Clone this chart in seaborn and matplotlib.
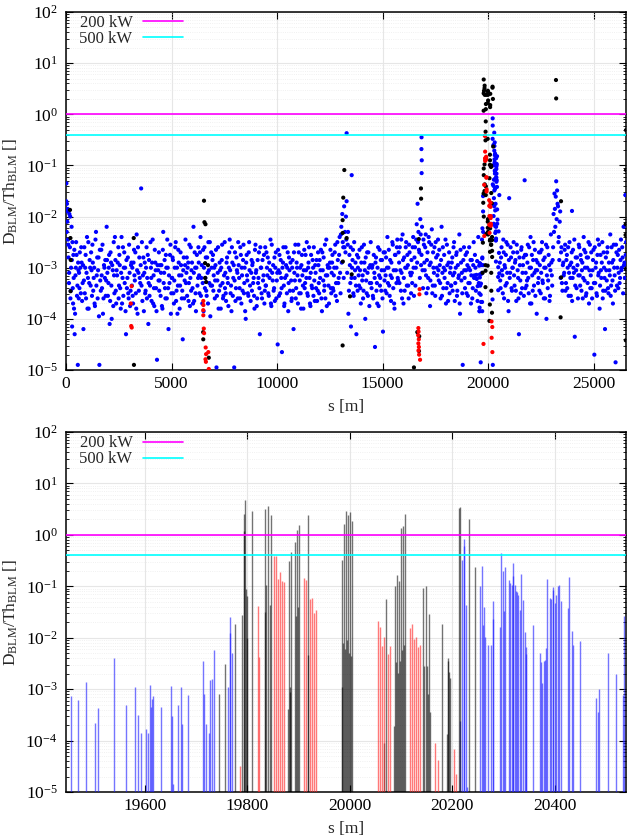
import numpy as np
import pandas as pd
import matplotlib
matplotlib.use("Agg")
import matplotlib.pyplot as plt
from matplotlib.ticker import FixedLocator, LogLocator, FuncFormatter, NullFormatter
from matplotlib.lines import Line2D
import seaborn as sns

# all losses stored as log10(D_BLM/Th_BLM)

# ---- zoomed region (lower panel, also part of the upper panel) ----
zoom_blue_s = [19455, 19469, 19486, 19503, 19509, 19539, 19563, 19580, 19587, 19593,
               19602, 19606, 19609, 19612, 19614, 19616, 19631, 19651, 19652, 19654,
               19665, 19670, 19673, 19685, 19714, 19715, 19720, 19725, 19728, 19731,
               19735, 19763, 19766, 19767, 19770, 20215, 20219, 20222, 20223, 20226,
               20228, 20254, 20258, 20260, 20261, 20264, 20269, 20275, 20279, 20280,
               20293, 20296, 20298, 20300, 20303, 20310, 20313, 20316, 20318, 20319,
               20322, 20324, 20326, 20329, 20332, 20335, 20337, 20341, 20343, 20344,
               20358, 20371, 20373, 20376, 20378, 20381, 20383, 20384, 20390, 20392,
               20396, 20397, 20400, 20402, 20406, 20409, 20413, 20425, 20428, 20433,
               20435, 20450, 20480, 20484, 20486, 20503, 20519, 20534, 20536]
zoom_blue_exp = [-3.14, -3.22, -2.87, -3.65, -3.36, -2.40, -3.30, -2.96, -3.50, -3.85,
                 -3.78, -3.85, -2.91, -3.34, -3.19, -3.13, -3.35, -2.93, -3.53, -4.85,
                 -3.31, -2.95, -3.67, -3.12, -2.45, -3.10, -3.67, -3.85, -2.82, -2.80,
                 -2.23, -2.95, -1.60, -1.90, -2.30, -3.62, -0.48, -0.08, -0.22, -1.37,
                 -4.90, -1.00, -0.60, -1.76, -1.40, -1.99, -2.14, -2.15, -1.28, -1.64,
                 -1.80, -0.36, -0.71, -1.49, -0.62, -0.88, -0.94, -0.98, -0.55, -0.80,
                 -0.97, -1.10, -1.11, -1.16, -1.46, -0.77, -1.26, -1.88, -2.19, -2.32,
                 -1.75, -2.29, -2.47, -2.88, -2.45, -2.43, -2.20, -0.86, -1.23, -1.24,
                 -1.07, -1.02, -1.32, -1.16, -0.99, -0.97, -1.29, -1.42, -0.82, -1.86,
                 -2.14, -2.06, -3.18, -3.44, -2.99, -2.29, -2.71, -3.11, -1.58]

zoom_black_s = [19744, 19757, 19775, 19790, 19793, 19794, 19796, 19797, 19799, 19800,
                19809, 19834, 19835, 19836, 19840, 19845, 19847, 19880, 19881, 19883,
                19884, 19885, 19893, 19895, 19897, 19899, 19901, 19918, 19919, 19984,
                19985, 19987, 19989, 19991, 19992, 19995, 19997, 19999, 20001, 20003,
                20005, 20067, 20070, 20087, 20088, 20090, 20092, 20094, 20096, 20098,
                20100, 20102, 20104, 20106, 20108, 20143, 20145, 20148, 20150, 20153,
                20154, 20157, 20180, 20189, 20191, 20192, 20194, 20196, 20213, 20215,
                20232, 20245]
zoom_black_exp = [-3.10, -2.51, -1.73, -1.55, 0.07, 0.41, 0.68, -1.06, -1.19, -2.00,
                  0.46, -1.50, 0.51, -0.98, 0.56, -1.37, 0.38, -3.38, -0.51, -2.95,
                  -3.06, -0.34, -0.14, -1.58, 0.10, -1.41, 0.20, 0.38, -2.34, -2.96,
                  -0.48, -2.10, 0.22, -2.22, 0.46, -2.05, 0.38, -2.30, 0.44, -2.35,
                  0.27, -4.04, -1.25, -3.72, -0.99, -2.47, -0.79, -2.69, -0.90, -2.45,
                  0.14, -2.23, 0.18, -2.15, 0.40, -1.03, -2.55, -1.00, -2.55, -3.10,
                  -1.54, -3.45, -1.74, -3.88, -2.40, -2.46, -2.67, -2.79, 0.52, 0.54,
                  0.30, -0.63]

zoom_red_s = [19786, 19820, 19823, 19852, 19856, 19860, 19864, 19868, 19872, 19911,
              19915, 19922, 19926, 19930, 19934, 20055, 20059, 20063, 20067, 20074,
              20078, 20117, 20121, 20125, 20129, 20133, 20137, 20167, 20172, 20203,
              20207]
zoom_red_exp = [-4.49, -1.38, -2.38, -0.42, -0.42, -0.86, -0.73, -0.90, -0.91, -0.83,
                -0.88, -1.24, -1.23, -1.51, -1.47, -1.68, -1.79, -2.16, -1.99, -2.32,
                -2.16, -1.81, -1.73, -2.03, -1.99, -2.18, -2.14, -4.05, -4.37, -4.16,
                -4.65]

# ---- rest of the ring (upper panel only) ----
ring_blue_s = [
    20, 45, 60, 80, 95, 120, 140, 160, 185, 210, 240, 265, 290, 320, 350, 380, 410, 450, 480, 520, 560, 590,
    10, 35, 70, 108, 150, 198, 228, 278, 305, 335, 365, 395, 430, 465, 500, 540, 575, 605,
    620, 655, 702, 740, 788, 826, 869, 910, 951, 995, 1040, 1076, 1121, 1168, 1210,
    1252, 1290, 1337, 1372, 1422, 1457, 1500, 1542, 1582, 1624, 1672, 1707, 1752, 1800, 1842,
    1882, 1927, 1960, 2012, 2044, 2092, 2134, 2165, 2217, 2262, 2294, 2342, 2379, 2422, 2480,
    2512, 2547, 2594, 2632, 2680, 2718, 2761, 2802, 2843, 2887, 2932, 2968, 3013, 3060, 3102,
    3142, 3177, 3224, 3262, 3310, 3348, 3391, 3432, 3473, 3517, 3562, 3598, 3643, 3690, 3732,
    3772, 3817, 3850, 3902, 3934, 3982, 4024, 4055, 4107, 4152, 4184, 4232, 4269, 4312, 4370,
    4402, 4437, 4484, 4522, 4570, 4608, 4651, 4692, 4733, 4777, 4822, 4858, 4903, 4950, 4992,
    5032, 5067, 5114, 5152, 5200, 5238, 5281, 5322, 5363, 5407, 5452, 5488, 5533, 5580, 5622,
    5662, 5707, 5740, 5792, 5824, 5872, 5914, 5945, 5997, 6042, 6074, 6122, 6159, 6202, 6260,
    6292, 6327, 6374, 6412, 6460, 6498, 6541, 6582, 6623, 6667, 6712, 6748, 6793, 6840, 6882,
    6922, 6967, 7000, 7052, 7084, 7132, 7174, 7205, 7257, 7302, 7334, 7382, 7419, 7462, 7520,
    7552, 7587, 7634, 7672, 7720, 7758, 7801, 7842, 7883, 7927, 7972, 8008, 8053, 8100, 8142,
    8182, 8227, 8260, 8312, 8344, 8392, 8434, 8465, 8517, 8562, 8594, 8642, 8679, 8722, 8780,
    8812, 8847, 8894, 8932, 8980, 9018, 9061, 9102, 9143, 9187, 9232, 9268, 9313, 9360, 9402,
    9442, 9477, 9524, 9562, 9610, 9648, 9691, 9732, 9773, 9817, 9862, 9898, 9943, 9990, 10032,
    10072, 10117, 10150, 10202, 10234, 10282, 10324, 10355, 10407, 10452, 10484, 10532, 10569, 10612, 10670,
    10702, 10737, 10784, 10822, 10870, 10908, 10951, 10992, 11033, 11077, 11122, 11158, 11203, 11250, 11292,
    11332, 11377, 11410, 11462, 11494, 11542, 11584, 11615, 11667, 11712, 11744, 11792, 11829, 11872, 11930,
    11962, 11997, 12044, 12082, 12130, 12168, 12211, 12252, 12293, 12337, 12382, 12418, 12463, 12510, 12552,
    12592, 12627, 12674, 12712, 12760, 12798, 12841, 12882, 12923, 12967, 13012, 13048, 13093, 13140, 13182,
    13222, 13267, 13300, 13352, 13384, 13432, 13474, 13505, 13557, 13602, 13634, 13682, 13719, 13762, 13820,
    13852, 13887, 13934, 13972, 14020, 14058, 14101, 14142, 14183, 14227, 14272, 14308, 14353, 14400, 14442,
    14482, 14527, 14560, 14612, 14644, 14692, 14734, 14765, 14817, 14862, 14894, 14942, 14979, 15022, 15080,
    15112, 15147, 15194, 15232, 15280, 15318, 15361, 15402, 15443, 15487, 15532, 15568, 15613, 15660, 15702,
    15742, 15787, 15820, 15872, 15904, 15952, 15994, 16025, 16077, 16122, 16154, 16202, 16239, 16282, 16340,
    16372, 16407, 16454, 16492, 16540, 16578, 16621, 16662, 16703, 16747, 16792, 16828, 16873, 16920, 16962,
    17002, 17047, 17080, 17132, 17164, 17212, 17254, 17285, 17337, 17382, 17414, 17462, 17499, 17542, 17600,
    17632, 17667, 17714, 17752, 17800, 17838, 17881, 17922, 17963, 18007, 18052, 18088, 18133, 18180, 18222,
    18262, 18307, 18340, 18392, 18424, 18472, 18514, 18545, 18597, 18642, 18674, 18722, 18759, 18802, 18860,
    18892, 18937, 18984, 19022, 19070, 19108, 19151, 19192, 19233, 19277, 19322, 19358, 19403,
    637, 680, 721, 764, 807, 848, 890, 930, 973, 1018, 1058, 1099, 1145, 1189, 1231,
    1271, 1313, 1355, 1397, 1440, 1478, 1521, 1562, 1603, 1648, 1690, 1730, 1776, 1821, 1862,
    1904, 1944, 1986, 2028, 2068, 2113, 2150, 2191, 2240, 2278, 2318, 2360, 2400, 2451, 2495,
    2530, 2570, 2613, 2656, 2699, 2740, 2782, 2822, 2865, 2910, 2950, 2990, 3037, 3081, 3122,
    3160, 3200, 3243, 3286, 3329, 3370, 3412, 3452, 3495, 3540, 3580, 3620, 3667, 3711, 3752,
    3794, 3834, 3876, 3918, 3958, 4003, 4040, 4081, 4130, 4168, 4208, 4250, 4290, 4341, 4385,
    4420, 4460, 4503, 4546, 4589, 4630, 4672, 4712, 4755, 4800, 4840, 4880, 4927, 4971, 5012,
    5050, 5090, 5133, 5176, 5219, 5260, 5302, 5342, 5385, 5430, 5470, 5510, 5557, 5601, 5642,
    5684, 5724, 5766, 5808, 5848, 5893, 5930, 5971, 6020, 6058, 6098, 6140, 6180, 6231, 6275,
    6310, 6350, 6393, 6436, 6479, 6520, 6562, 6602, 6645, 6690, 6730, 6770, 6817, 6861, 6902,
    6944, 6984, 7026, 7068, 7108, 7153, 7190, 7231, 7280, 7318, 7358, 7400, 7440, 7491, 7535,
    7570, 7610, 7653, 7696, 7739, 7780, 7822, 7862, 7905, 7950, 7990, 8030, 8077, 8121, 8162,
    8204, 8244, 8286, 8328, 8368, 8413, 8450, 8491, 8540, 8578, 8618, 8660, 8700, 8751, 8795,
    8830, 8870, 8913, 8956, 8999, 9040, 9082, 9122, 9165, 9210, 9250, 9290, 9337, 9381, 9422,
    9460, 9500, 9543, 9586, 9629, 9670, 9712, 9752, 9795, 9840, 9880, 9920, 9967, 10011, 10052,
    10094, 10134, 10176, 10218, 10258, 10303, 10340, 10381, 10430, 10468, 10508, 10550, 10590, 10641, 10685,
    10720, 10760, 10803, 10846, 10889, 10930, 10972, 11012, 11055, 11100, 11140, 11180, 11227, 11271, 11312,
    11354, 11394, 11436, 11478, 11518, 11563, 11600, 11641, 11690, 11728, 11768, 11810, 11850, 11901, 11945,
    11980, 12020, 12063, 12106, 12149, 12190, 12232, 12272, 12315, 12360, 12400, 12440, 12487, 12531, 12572,
    12610, 12650, 12693, 12736, 12779, 12820, 12862, 12902, 12945, 12990, 13030, 13070, 13117, 13161, 13202,
    13244, 13284, 13326, 13368, 13408, 13453, 13490, 13531, 13580, 13618, 13658, 13700, 13740, 13791, 13835,
    13870, 13910, 13953, 13996, 14039, 14080, 14122, 14162, 14205, 14250, 14290, 14330, 14377, 14421, 14462,
    14504, 14544, 14586, 14628, 14668, 14713, 14750, 14791, 14840, 14878, 14918, 14960, 15000, 15051, 15095,
    15130, 15170, 15213, 15256, 15299, 15340, 15382, 15422, 15465, 15510, 15550, 15590, 15637, 15681, 15722,
    15764, 15804, 15846, 15888, 15928, 15973, 16010, 16051, 16100, 16138, 16178, 16220, 16260, 16311, 16355,
    16390, 16430, 16473, 16516, 16559, 16600, 16642, 16682, 16725, 16770, 16810, 16850, 16897, 16941, 16982,
    17024, 17064, 17106, 17148, 17188, 17233, 17270, 17311, 17360, 17398, 17438, 17480, 17520, 17571, 17615,
    17650, 17690, 17733, 17776, 17819, 17860, 17902, 17942, 17985, 18030, 18070, 18110, 18157, 18201, 18242,
    18284, 18324, 18366, 18408, 18448, 18493, 18530, 18571, 18620, 18658, 18698, 18740, 18780, 18831, 18875,
    18910, 18960, 19003, 19046, 19089, 19130, 19172, 19212, 19255, 19300, 19340, 19380, 19425,
    20560, 20598, 20641, 20680, 20725, 20762, 20808, 20847, 20889, 20930, 20975, 21003, 21050, 21092, 21135,
    21172, 21215, 21258, 21300, 21340, 21385, 21427, 21465, 21510, 21553, 21590, 21637, 21680, 21736, 21770,
    21805, 21848, 21886, 21930, 21972, 22015, 22055, 22098, 22140, 22180, 22222, 22266, 22308, 22350, 22395,
    22435, 22478, 22520, 22561, 22600, 22645, 22688, 22727, 22770, 22812, 22850, 22896, 22937, 22980, 23024,
    23065, 23108, 23150, 23190, 23232, 23275, 23318, 23356, 23400, 23442, 23480, 23527, 23568, 23610, 23655,
    23695, 23738, 23776, 23820, 23862, 23905, 23945, 23988, 24030, 24070, 24112, 24156, 24198, 24240, 24285,
    24325, 24368, 24410, 24451, 24490, 24535, 24578, 24617, 24660, 24702, 24740, 24786, 24827, 24870, 24914,
    24955, 24998, 25040, 25080, 25122, 25165, 25208, 25246, 25290, 25332, 25370, 25417, 25458, 25500, 25545,
    25585, 25628, 25666, 25710, 25752, 25795, 25835, 25878, 25920, 25960, 26002, 26046, 26088, 26130, 26175,
    26215, 26258, 26300, 26342, 26380, 26425, 26468, 26510, 26545,
    20578, 20620, 20660, 20702, 20745, 20785, 20826, 20868, 20910, 20952, 20990, 21028, 21071, 21114, 21155,
    21193, 21236, 21279, 21320, 21362, 21405, 21446, 21488, 21531, 21572, 21614, 21658, 21700, 21752, 21788,
    21826, 21867, 21908, 21951, 21993, 22035, 22077, 22119, 22160, 22201, 22244, 22287, 22329, 22372, 22414,
    22456, 22499, 22540, 22582, 22623, 22666, 22707, 22749, 22791, 22831, 22873, 22916, 22958, 23002, 23042,
    23086, 23128, 23170, 23211, 23253, 23296, 23337, 23378, 23421, 23461, 23503, 23547, 23589, 23632, 23673,
    23716, 23757, 23798, 23841, 23883, 23925, 23966, 24009, 24050, 24091, 24134, 24177, 24219, 24262, 24303,
    24346, 24389, 24430, 24470, 24512, 24556, 24597, 24638, 24681, 24721, 24763, 24806, 24848, 24892, 24934,
    24976, 25019, 25060, 25101, 25143, 25186, 25227, 25268, 25311, 25351, 25393, 25437, 25479, 25522, 25562,
    25606, 25647, 25688, 25731, 25773, 25815, 25856, 25899, 25940, 25981, 26024, 26067, 26109, 26152, 26194,
    26236, 26279, 26320, 26361, 26403, 26446, 26489, 26528,
    13300, 13540, 16850, 16845, 16860, 16855, 23980, 26530]
ring_blue_exp = [
    -1.35, -1.75, -2.1, -1.85, -2.45, -2.8, -3.3, -1.95, -2.6, -3.6, -3.0, -2.2, -4.15, -3.4, -2.75, -3.8, -4.3, -3.15, -2.5, -3.55, -4.9, -3.05,
    -1.7, -2.3, -1.9, -2.55, -3.1, -2.0, -3.45, -2.85, -2.5, -3.7, -3.2, -2.65, -3.9, -3.0, -2.75, -3.35, -2.9, -3.6,
    -3.1, -2.7, -3.5, -2.9, -3.3, -4.2, -2.6, -3.0, -3.6, -2.4, -3.2, -3.8, -2.85, -3.35, -3.05,
    -2.55, -3.45, -3.0, -3.75, -2.3, -3.15, -3.6, -2.8, -4.9, -3.25, -2.65, -3.4, -3.9, -2.95, -3.2,
    -3.55, -2.2, -3.1, -3.3, -2.75, -3.65, -2.9, -4.0, -3.05, -2.5, -3.5, -2.85, -3.7, -3.15, -2.6,
    -3.35, -2.95, -3.8, -2.4, -3.2, -3.55, -2.7, -3.0, -4.3, -3.4, -2.8, -3.6, -3.1, -3.45, -2.9,
    -3.0, -3.7, -2.65, -3.25, -3.5, -2.35, -3.9, -3.1, -2.8, -3.3, -1.45, -2.5, -3.15, -3.85, -2.9,
    -3.45, -2.6, -3.2, -4.1, -2.85, -3.35, -3.0, -3.65, -2.45, -3.15, -3.75, -2.9, -3.4, -4.8, -3.05,
    -2.7, -3.25, -3.55, -2.95, -3.8, -2.3, -3.1, -3.4, -2.75, -3.6, -3.0, -4.2, -3.3, -2.55, -3.5,
    -3.2, -2.85, -3.7, -3.0, -2.5, -3.45, -3.9, -2.65, -3.15, -3.35, -2.95, -3.6, -4.4, -2.8, -3.25,
    -2.45, -3.1, -3.55, -2.9, -3.3, -3.75, -2.6, -3.05, -3.4, -2.2, -3.65, -3.0, -3.85, -2.75, -3.2,
    -2.9, -3.5, -2.4, -3.2, -3.7, -2.65, -3.0, -3.4, -2.8, -3.55, -3.1, -2.5, -3.3, -3.95, -2.7,
    -3.35, -2.75, -3.15, -3.6, -2.95, -4.95, -3.25, -2.6, -3.45, -3.05, -3.8, -2.85, -3.3, -3.55, -2.5,
    -3.1, -3.65, -2.8, -3.3, -3.0, -2.45, -3.5, -3.85, -2.9, -3.2, -4.95, -2.7, -3.4, -3.05, -3.6,
    -2.95, -3.4, -2.6, -3.7, -3.15, -2.85, -3.5, -3.0, -4.0, -2.75, -3.25, -3.55, -2.5, -3.35, -3.1,
    -3.45, -2.9, -3.2, -3.8, -2.55, -3.05, -3.6, -3.3, -2.7, -4.3, -3.0, -3.5, -2.85, -3.15, -3.7,
    -2.6, -3.35, -3.0, -2.8, -3.55, -3.2, -2.45, -3.75, -3.1, -2.95, -3.4, -3.65, -2.7, -3.25, -4.5,
    -3.05, -2.75, -3.5, -3.2, -4.65, -2.9, -3.35, -3.7, -2.6, -3.15, -3.0, -3.85, -2.8, -3.45, -3.25,
    -3.6, -2.85, -4.2, -3.1, -2.55, -3.4, -3.0, -3.7, -2.7, -3.25, -3.5, -2.95, -3.15, -3.8, -2.65,
    -3.3, -3.05, -2.5, -3.55, -2.9, -3.2, -3.75, -2.75, -3.4, -3.0, -2.6, -3.65, -3.1, -2.85, -3.45,
    -2.95, -3.5, -3.2, -2.65, -3.85, -3.05, -2.8, -3.35, -3.6, -2.45, -3.15, -3.0, -3.7, -2.9, -3.4,
    -3.1, -2.75, -3.45, -3.0, -2.55, -3.3, -3.65, -2.85, -3.2, -2.4, -3.5, -2.2, -1.95, -2.6, -1.8,
    -2.3, -2.0, -1.7, -2.55, -3.9, -2.75, -3.3, -4.15, -3.0, -2.65, -3.55, -3.2, -2.9, -4.3, -3.45,
    -2.8, -3.35, -3.05, -3.7, -2.6, -3.15, -3.45, -2.9, -4.0, -3.25, -2.7, -3.55, -3.0, -3.3, -2.5,
    -3.4, -2.95, -3.6, -3.1, -4.55, -2.8, -3.3, -3.0, -3.75, -2.65, -3.2, -3.45, -2.85, -4.25, -3.05,
    -2.7, -3.15, -3.5, -2.4, -3.0, -3.35, -2.85, -3.65, -3.2, -2.55, -3.05, -3.8, -2.75, -3.3, -2.45,
    -3.25, -2.9, -2.6, -3.45, -3.1, -2.35, -3.7, -2.8, -3.0, -2.5, -3.35, -2.95, -3.6, -2.7, -3.15,
    -2.85, -3.3, -2.4, -3.55, -2.6, -3.0, -2.15, -1.75, -2.3, -2.7, -2.05, -2.95, -2.2, -3.4, -2.55,
    -3.05, -2.35, -3.5, -2.7, -3.2, -2.5, -3.75, -2.9, -2.25, -3.35, -3.0, -2.6, -3.55, -2.8, -3.15,
    -2.45, -3.25, -2.95, -3.6, -2.2, -3.1, -3.4, -2.75, -3.05, -3.7, -2.55, -3.3, -2.9, -3.5, -3.0,
    -3.35, -2.8, -3.15, -2.5, -3.65, -3.0, -2.7, -3.45, -3.2, -2.35, -3.9, -2.9, -3.1, -4.9, -2.6,
    -3.2, -2.75, -3.5, -2.95, -3.3, -2.6, -3.05, -3.7, -2.85, -3.4, -2.5, -3.15, -3.0,
    -3.4, -3.0, -2.6, -3.65, -2.95, -3.25, -3.5, -2.75, -3.1, -3.8, -2.5, -3.3, -3.0, -2.7, -3.55,
    -2.9, -3.2, -3.7, -2.45, -3.35, -2.8, -3.05, -3.95, -2.65, -3.45, -3.15, -2.55, -3.6, -3.0, -2.85,
    -3.25, -2.85, -3.55, -3.0, -4.1, -2.7, -3.35, -2.95, -3.75, -3.15, -2.4, -3.45, -3.05, -2.9, -3.6,
    -2.75, -3.4, -3.1, -3.7, -2.6, -3.0, -3.3, -3.85, -2.85, -3.2, -3.5, -2.55, -3.75, -2.95, -3.35,
    -3.55, -2.9, -3.15, -2.7, -3.8, -3.05, -2.6, -3.45, -3.2, -2.95, -3.35, -3.65, -2.8, -3.1, -3.5,
    -3.0, -3.6, -2.75, -3.3, -3.55, -2.5, -3.2, -2.9, -3.7, -3.4, -2.65, -3.05, -3.85, -2.95, -3.25,
    -3.45, -2.95, -3.1, -3.75, -2.65, -3.3, -2.85, -3.6, -3.0, -2.45, -3.4, -3.15, -2.75, -3.9, -3.2,
    -2.8, -3.5, -3.25, -2.6, -3.65, -3.0, -3.35, -2.9, -3.8, -2.7, -3.15, -3.45, -3.05, -3.6, -2.95,
    -3.3, -2.8, -3.0, -3.65, -2.55, -3.2, -3.45, -2.9, -3.7, -3.1, -2.7, -3.5, -3.0, -3.35, -2.6,
    -3.15, -2.7, -3.55, -2.95, -3.3, -3.85, -2.6, -3.2, -3.45, -2.8, -3.7, -3.05, -2.5, -3.35, -3.0,
    -2.85, -3.45, -3.0, -3.25, -2.65, -3.55, -3.1, -3.8, -2.9, -3.35, -3.0, -2.55, -3.6, -3.15, -3.4,
    -3.5, -2.9, -3.2, -3.75, -2.7, -3.05, -3.35, -2.6, -3.55, -2.95, -3.25, -3.65, -2.8, -3.1, -2.5,
    -3.2, -3.6, -2.75, -3.0, -3.45, -2.55, -3.3, -3.85, -2.9, -3.15, -3.5, -2.7, -3.05, -3.65, -2.85,
    -2.95, -3.3, -3.55, -2.65, -3.1, -3.75, -2.85, -3.2, -3.4, -2.6, -3.0, -3.6, -3.25, -2.75, -3.45,
    -3.35, -2.7, -3.15, -3.5, -2.9, -3.05, -3.7, -2.55, -3.25, -3.45, -2.8, -3.0, -3.6, -3.1, -2.65,
    -3.55, -3.1, -2.85, -3.4, -3.0, -2.6, -3.75, -3.2, -2.95, -3.5, -2.7, -3.3, -3.05, -2.9, -3.65,
    -3.0, -3.45, -2.7, -3.25, -3.6, -2.9, -3.15, -2.55, -3.5, -3.0, -3.8, -2.75, -3.35, -3.05, -3.4,
    -2.75, -3.2, -3.5, -3.0, -2.6, -3.7, -3.1, -3.35, -2.85, -3.55, -3.25, -2.95, -3.4, -3.65, -2.7,
    -3.3, -2.85, -3.05, -3.6, -2.7, -3.25, -3.45, -2.55, -3.15, -3.75, -2.95, -3.35, -3.0, -2.65, -3.5,
    -2.9, -3.4, -3.15, -2.7, -3.55, -3.0, -2.5, -3.3, -2.75, -3.1, -2.35, -2.9, -2.5, -3.2, -2.6,
    -2.7, -2.45, -3.1, -2.3, -3.45, -2.95, -2.6, -3.2, -2.85, -3.5, -2.5, -3.05, -3.35, -2.75, -3.0,
    -3.15, -2.65, -3.4, -2.9, -3.25, -3.6, -2.55, -3.05, -2.8, -3.5, -3.1, -2.7, -3.75, -2.95, -3.3,
    -3.0, -3.55, -2.75, -3.2, -2.9, -3.45, -3.7, -2.6, -3.15, -3.35, -2.85, -3.05, -3.6, -2.7, -3.25,
    -3.45, -2.8, -3.0, -3.3, -2.65, -3.55, -3.15, -2.9, -2.5, -3.4, -3.7, -2.75, -3.05, -2.6, -3.2,
    -2.7, -3.3, -3.05, -2.45, -3.6, -2.85, -3.2, -3.45, -2.6, -3.0, -2.75, -3.35, -2.55, -3.1, -3.5,
    -3.1, -2.6, -3.0, -2.8, -3.35, -2.45, -2.9, -2.5, -2.65, -3.2, -2.35, -2.75, -3.05, -2.45, -2.9,
    -2.6, -3.15, -2.85, -3.4, -2.4, -2.95, -3.25, -2.55, -3.5, -2.7, -3.1, -3.35, -2.5, -3.0, -2.75,
    -3.05, -2.65, -3.3, -2.85, -3.55, -2.6, -3.0, -3.2, -2.45, -3.4, -2.95, -3.65, -2.7, -3.1, -3.35,
    -2.9, -3.45, -2.6, -3.1, -3.3, -2.75, -3.55, -2.95, -3.15, -3.7, -2.65, -3.25, -3.5, -2.85, -3.05,
    -3.4, -3.05, -2.7, -3.55, -3.0, -3.3, -2.85, -3.15, -3.6, -2.95, -3.2, -2.75, -3.45,
    -2.9, -3.4, -2.6, -3.15, -2.45, -3.6, -3.0, -2.75, -3.3, -2.55, -3.85, -1.64, -3.1, -2.8, -3.45,
    -3.0, -2.5, -3.35, -2.85, -3.65, -2.7, -3.2, -4.3, -2.95, -3.5, -2.6, -3.1, -2.8, -1.29, -3.4,
    -2.75, -3.25, -2.55, -3.5, -3.0, -2.4, -3.7, -3.15, -2.85, -3.35, -2.65, -3.05, -3.9, -2.9, -3.2,
    -3.45, -2.7, -3.1, -2.5, -3.3, -3.6, -2.8, -3.0, -4.0, -2.6, -3.25, -2.95, -3.55, -2.35, -3.15,
    -2.85, -1.95, -1.55, -2.2, -1.31, -1.49, -1.8, -2.4, -2.1, -3.2, -2.6, -3.45, -2.9, -3.1, -2.55,
    -3.3, -2.75, -3.0, -3.55, -2.5, -3.2, -2.9, -3.65, -2.65, -3.1, -4.35, -2.8, -3.4, -2.95, -3.15,
    -2.6, -3.35, -2.85, -3.05, -3.6, -2.4, -3.25, -2.7, -3.5, -3.0, -2.8, -3.7, -2.55, -3.15, -3.4,
    -3.05, -2.65, -4.7, -3.3, -2.9, -3.55, -2.45, -3.1, -3.8, -2.75, -3.2, -2.5, -3.45, -3.0, -4.2,
    -2.8, -3.25, -2.6, -3.5, -3.05, -2.35, -3.35, -2.9, -3.7, -2.55, -3.15, -4.85, -2.7, -3.0, -3.4,
    -2.65, -3.2, -2.45, -3.0, -2.8, -2.2, -2.9, -1.58, -2.5,
    -3.25, -2.8, -3.05, -3.5, -2.7, -2.95, -3.35, -2.5, -3.1, -3.65, -2.85, -3.2, -2.6, -3.4, -3.0,
    -2.7, -3.15, -2.9, -3.45, -2.55, -3.05, -3.6, -2.8, -3.25, -2.65, -3.4, -2.95, -3.55, -2.75, -3.1,
    -3.35, -2.9, -3.2, -2.6, -3.7, -3.0, -2.75, -3.45, -2.5, -3.1, -3.55, -2.85, -3.05, -3.3, -2.7,
    -2.95, -3.5, -2.65, -3.25, -2.85, -3.0, -3.6, -2.55, -3.15, -3.4, -2.75, -3.65, -3.05, -2.9, -3.35,
    -2.6, -2.3, -1.85, -1.61, -2.05, -1.75, -2.5, -2.85, -1.9, -2.7, -3.3, -2.95, -3.15, -2.65, -3.45,
    -2.85, -3.4, -2.6, -3.1, -2.95, -3.55, -2.7, -3.2, -3.0, -2.45, -3.35, -3.05, -2.8, -3.6, -2.55,
    -3.15, -2.75, -3.45, -2.9, -3.2, -2.65, -3.0, -3.55, -2.8, -3.3, -2.5, -3.05, -3.4, -2.7, -3.6,
    -2.85, -3.3, -2.6, -3.0, -3.5, -2.75, -3.15, -2.55, -3.35, -3.05, -2.9, -3.6, -2.7, -3.2, -3.45,
    -3.05, -2.7, -3.4, -2.9, -3.15, -3.55, -2.6, -3.25, -2.85, -3.0, -3.45, -2.55, -3.35, -2.75, -3.1,
    -3.3, -2.85, -3.05, -2.6, -3.5, -2.95, -3.2, -2.75,
    -0.37, -1.19, -0.45, -0.68, -0.90, -1.15, -1.89, -1.58]

ring_black_s = [190, 210, 225, 215, 3210, 3220, 6540, 6560, 6610, 6590, 6730, 6600, 6640,
                6500, 6505, 6767, 13190, 13140, 13110, 13115, 13120, 13300, 13540, 13460,
                13110, 16823, 16830, 16720, 16650, 16740, 16730, 16490, 23221, 23230,
                23460, 23440, 23465, 26540, 26545, 26530, 26520, 26540, 26530]
ring_black_exp = [-1.87, -2.42, -2.85, -3.46, -2.42, -4.90, -1.69, -2.11, -2.15, -2.91,
                  -2.95, -3.20, -3.28, -4.26, -4.40, -4.76, -1.09, -1.63, -2.07, -2.32,
                  -2.88, -2.42, -3.13, -3.56, -4.52, -1.45, -1.65, -2.44, -4.26, -4.34,
                  -4.63, -4.95, 0.67, 0.31, -1.70, -3.97, -3.19, -0.31, -1.09, -2.15,
                  -2.36, -3.02, -4.42]

ring_red_s = [3110, 3070, 3090, 3115, 6507, 6512, 6505, 6508, 6530, 6545, 6620, 6640,
              6610, 6630, 6745, 6767, 16700, 16710, 16690, 16720, 16700, 16725, 16705,
              16735, 16780, 16760, 16750]
ring_red_exp = [-3.36, -3.70, -4.14, -4.17, -3.65, -3.73, -3.83, -3.93, -4.19, -4.28,
                -4.56, -4.69, -4.79, -4.84, -4.65, -4.98, -4.18, -4.25, -4.32, -4.40,
                -4.48, -4.55, -4.62, -4.70, -4.80, -3.42, -3.52]

# thresholds
limit_labels = ["200 kW", "500 kW"]
limit_values = [1.0, 0.4]
limit_colors = ["#ff00ff", "#00ffff"]

point_colors = {"blue": "#0000ff", "black": "#000000", "red": "#ff0000"}
impulse_colors = {"blue": ("#2020ff", 0.62), "black": ("#000000", 0.55), "red": ("#ff2020", 0.6)}


def frame(s, e, cls):
    if len(s) != len(e):
        raise ValueError(f"{cls}: {len(s)} positions vs {len(e)} values")
    return pd.DataFrame({"s": s, "ratio": np.power(10.0, e), "cls": cls})


zoom_df = pd.concat([frame(zoom_blue_s, zoom_blue_exp, "blue"),
                     frame(zoom_black_s, zoom_black_exp, "black"),
                     frame(zoom_red_s, zoom_red_exp, "red")], ignore_index=True)
ring_df = pd.concat([frame(ring_blue_s, ring_blue_exp, "blue"),
                     frame(ring_black_s, ring_black_exp, "black"),
                     frame(ring_red_s, ring_red_exp, "red")], ignore_index=True)
top_df = pd.concat([ring_df, zoom_df], ignore_index=True)
draw_order = {"blue": 0, "black": 1, "red": 2}
top_df = top_df.assign(k=top_df["cls"].map(draw_order)).sort_values("k", kind="stable")

sns.set_theme(style="ticks")
plt.rcParams["font.family"] = ["Liberation Serif", "DejaVu Serif"]
plt.rcParams["mathtext.fontset"] = "custom"
plt.rcParams["mathtext.rm"] = "Liberation Serif"
plt.rcParams["mathtext.it"] = "Liberation Serif:italic"
plt.rcParams["mathtext.bf"] = "Liberation Serif:bold"

FS = 12.5

fig = plt.figure(figsize=(6.27, 8.40), dpi=100)
ax_top = fig.add_axes([66 / 627, 1 - 370 / 840, 560 / 627, 358 / 840])
ax_bot = fig.add_axes([66 / 627, 1 - 792 / 840, 560 / 627, 360 / 840])


def dec_label(v, pos):
    return r"$10^{%d}$" % int(round(np.log10(v)))


def style_axes(ax, xticks):
    ax.set_yscale("log")
    ax.set_ylim(1e-5, 1e2)
    ax.yaxis.set_major_locator(FixedLocator([10.0 ** k for k in range(-5, 3)]))
    ax.yaxis.set_minor_locator(LogLocator(base=10, subs=np.arange(2, 10), numticks=30))
    ax.yaxis.set_major_formatter(FuncFormatter(dec_label))
    ax.yaxis.set_minor_formatter(NullFormatter())
    ax.xaxis.set_major_locator(FixedLocator(xticks))
    ax.xaxis.set_major_formatter(FuncFormatter(lambda v, p: "%d" % v))
    ax.grid(which="major", color="#e6e6e6", lw=0.8, ls="-")
    ax.grid(which="minor", axis="y", color="#ececec", lw=0.6, ls=":")
    ax.set_axisbelow(True)
    ax.tick_params(which="both", direction="in", top=True, right=True, colors="black",
                   labelsize=FS)
    ax.tick_params(axis="y", pad=6)
    ax.tick_params(axis="x", pad=4)
    ax.tick_params(which="major", length=5, width=0.8)
    ax.tick_params(which="minor", length=2.5, width=0.6)
    for sp in ax.spines.values():
        sp.set_color("black")
        sp.set_linewidth(1.1)
    handles = []
    for val, lab, col in zip(limit_values, limit_labels, limit_colors):
        ax.axhline(val, color=col, lw=1.2, zorder=4)
        handles.append(Line2D([0], [0], color=col, lw=1.2, label=lab))
    ax.legend(handles=handles, loc="upper left", bbox_to_anchor=(0.018, 1.0),
              markerfirst=False, frameon=False, fontsize=FS - 0.5, handlelength=2.4,
              handletextpad=0.6, labelspacing=0.0, borderaxespad=0.0, borderpad=0.2)
    ax.set_xlabel("s [m]", fontsize=FS, labelpad=5.5)
    ax.set_ylabel(r"D$_{\rm BLM}$/Th$_{\rm BLM}$ []", fontsize=FS, labelpad=4)


# upper panel: whole ring, one dot per monitor
sns.scatterplot(data=top_df, x="s", y="ratio", hue="cls", palette=point_colors,
                s=9, linewidth=0, legend=False, ax=ax_top, zorder=3)
style_axes(ax_top, list(range(0, 26000, 5000)))
ax_top.set_xlim(0, 26540)

# lower panel: zoom around 20 km as impulses
for cls in ["blue", "black", "red"]:
    sub = zoom_df[zoom_df["cls"] == cls]
    col, a = impulse_colors[cls]
    ax_bot.vlines(sub["s"], 1e-5, sub["ratio"], colors=col, alpha=a, lw=1.0, zorder=3)
style_axes(ax_bot, list(range(19600, 20500, 200)))
ax_bot.set_xlim(19446, 20539)

fig.savefig("out.png", dpi=100)
